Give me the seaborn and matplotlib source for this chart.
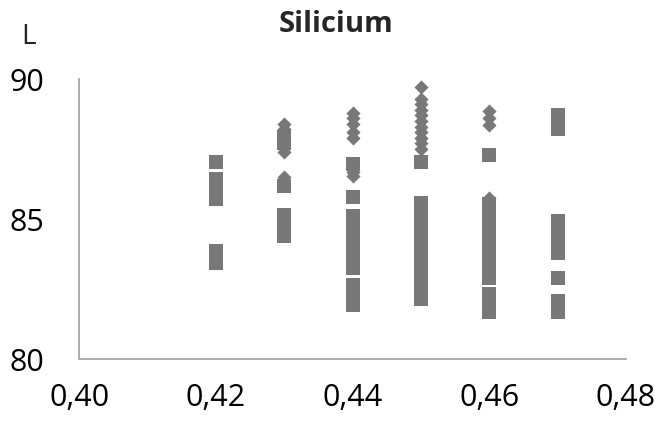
import matplotlib
matplotlib.use("Agg")
import matplotlib.pyplot as plt
import seaborn as sns
import pandas as pd
from matplotlib.ticker import FuncFormatter

# --- data ---
sq_x = ([0.42] * 7 + [0.43] * 7 + [0.44] * 12 + [0.45] * 14 + [0.46] * 14 + [0.47] * 10)
sq_y = ([87.04, 86.43, 86.1, 85.71, 83.85, 83.6, 83.43] +
        [87.93, 87.7, 86.18, 85.15, 84.9, 84.65, 84.38] +
        [86.96, 85.79, 85.1, 84.8, 84.5, 84.2, 83.9, 83.6, 83.25, 82.63, 82.3, 81.94] +
        [87.04, 85.58, 85.3, 85.0, 84.7, 84.4, 84.1, 83.8, 83.5, 83.2, 82.9, 82.6, 82.35, 82.15] +
        [87.27, 85.55, 85.25, 84.95, 84.65, 84.35, 84.05, 83.75, 83.45, 83.15, 82.9, 82.31, 82.0, 81.7] +
        [88.71, 88.2, 84.92, 84.6, 84.3, 84.0, 83.79, 82.9, 82.06, 81.67])
di_x = ([0.43] * 5 + [0.44] * 7 + [0.45] * 11 + [0.46] * 4)
di_y = ([88.38, 88.2, 87.55, 87.4, 86.5] +
        [88.79, 88.6, 88.4, 88.1, 87.89, 86.68, 86.54] +
        [89.72, 89.3, 89.1, 88.9, 88.7, 88.5, 88.3, 88.1, 87.9, 87.7, 87.5] +
        [88.86, 88.6, 88.35, 85.75])

x_ticks = [0.40, 0.42, 0.44, 0.46, 0.48]
y_ticks = [80, 85, 90]
title = "Silicium"
y_label = "L"

df_sq = pd.DataFrame({"x": sq_x, "y": sq_y})
df_di = pd.DataFrame({"x": di_x, "y": di_y})

sns.set_style("white")
plt.rcParams['font.family'] = ['Open Sans', 'DejaVu Sans']

fig = plt.figure(figsize=(6.59, 4.26), dpi=100)
ax = fig.add_axes([0.12, 0.157, 0.83, 0.6575])

gray = "#787878"
sns.scatterplot(data=df_sq, x="x", y="y", marker="s", s=100, color=gray,
                linewidth=0, ax=ax, legend=False)
sns.scatterplot(data=df_di, x="x", y="y", marker="D", s=52, color=gray,
                linewidth=0, ax=ax, legend=False)

ax.set_xlim(0.40, 0.48)
ax.set_ylim(80, 90)
ax.set_xticks(x_ticks)
ax.set_yticks(y_ticks)
ax.xaxis.set_major_formatter(FuncFormatter(lambda v, p: f"{v:.2f}".replace(".", ",")))
ax.yaxis.set_major_formatter(FuncFormatter(lambda v, p: f"{v:.0f}"))
ax.tick_params(axis='both', length=0, labelsize=22, colors='#000000')
ax.tick_params(axis='y', pad=25)
ax.tick_params(axis='x', pad=17)
ax.set_xlabel("")
ax.set_ylabel("")

for s in ["top", "right"]:
    ax.spines[s].set_visible(False)
for s in ["left", "bottom"]:
    ax.spines[s].set_color("#a6a6a6")
    ax.spines[s].set_linewidth(1.3)

fig.text(336 / 659, 1 - 25 / 426, title, ha="center", va="center",
         fontsize=21, fontweight="bold")
fig.text(29 / 659, 1 - 37 / 426, y_label, ha="center", va="center", fontsize=20)

fig.savefig("out.png", dpi=100)
